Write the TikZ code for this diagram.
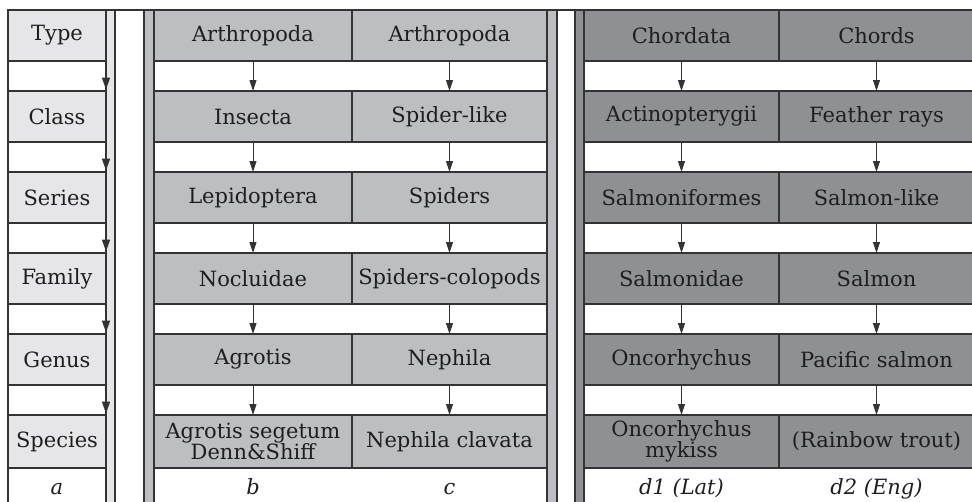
\documentclass[tikz,border=0pt]{standalone}
\usepackage{fontspec}
\setmainfont{DejaVu Serif}
\usetikzlibrary{arrows.meta}
\definecolor{ga}{HTML}{E6E6E8}
\definecolor{gb}{HTML}{BDBEC2}
\definecolor{gd}{HTML}{8F9094}
\definecolor{ln}{HTML}{333333}
\definecolor{tx}{HTML}{1E1E1E}
\tikzset{
  cell/.style={draw=ln, line width=1.2pt, rectangle, inner sep=0pt, outer sep=0pt,
    anchor=north west, minimum height=51pt, text=tx, align=center,
    font=\fontsize{21}{19}\selectfont},
  cola/.style={cell, fill=ga, minimum width=98pt},
  colb/.style={cell, fill=gb, minimum width=198pt},
  colc/.style={cell, fill=gb, minimum width=195pt},
  cold/.style={cell, fill=gd, minimum width=195pt},
  lab/.style={anchor=base, text=tx, font=\fontsize{21}{24}\selectfont\itshape},
  arr/.style={draw=ln, line width=1pt, -{Triangle[length=11pt,width=7pt]}},
  larr/.style={draw=ln, line width=1.6pt, -{Triangle[length=12pt,width=8pt]}},
  rule/.style={draw=ln, line width=1.2pt},
  thick rule/.style={draw=ln, line width=1.8pt},
}
\begin{document}
\begin{tikzpicture}[x=1pt,y=-1pt]
\useasboundingbox (0,0) rectangle (972,501);
% strips
\fill[ga] (106,10) rectangle (115,510);
\fill[gb] (144,10) rectangle (154,510);
\fill[gb] (547,10) rectangle (557,510);
\fill[gd] (575,10) rectangle (584,510);
% column a
\node[cola] (a1) at (8,10)  {Type};
\node[cola] (a2) at (8,91)  {Class};
\node[cola] (a3) at (8,172) {Series};
\node[cola] (a4) at (8,253) {Family};
\node[cola] (a5) at (8,334) {Genus};
\node[cola, minimum height=53pt] (a6) at (8,415) {Species};
% column b
\node[colb] (b1) at (154,10)  {Arthropoda};
\node[colb] (b2) at (154,91)  {Insecta};
\node[colb] (b3) at (154,172) {Lepidoptera};
\node[colb] (b4) at (154,253) {Nocluidae};
\node[colb] (b5) at (154,334) {Agrotis};
\node[colb, minimum height=53pt] (b6) at (154,415) {Agrotis segetum\\Denn\&Shiff};
% column c
\node[colc] (c1) at (352,10)  {Arthropoda};
\node[colc] (c2) at (352,91)  {Spider-like};
\node[colc] (c3) at (352,172) {Spiders};
\node[colc] (c4) at (352,253) {Spiders-colopods};
\node[colc] (c5) at (352,334) {Nephila};
\node[colc, minimum height=53pt] (c6) at (352,415) {Nephila clavata};
% column d1
\node[cold] (d1) at (584,10)  {Chordata};
\node[cold] (d2) at (584,91)  {Actinopterygii};
\node[cold] (d3) at (584,172) {Salmoniformes};
\node[cold] (d4) at (584,253) {Salmonidae};
\node[cold] (d5) at (584,334) {Oncorhychus};
\node[cold, minimum height=53pt] (d6) at (584,415) {Oncorhychus\\mykiss};
% column d2
\node[cold] (e1) at (779,10)  {Chords};
\node[cold] (e2) at (779,91)  {Feather rays};
\node[cold] (e3) at (779,172) {Salmon-like};
\node[cold] (e4) at (779,253) {Salmon};
\node[cold] (e5) at (779,334) {Pacific salmon};
\node[cold, minimum height=53pt] (e6) at (779,415) {(Rainbow trout)};
% frame lines
\draw[rule] (8,10) -- (972,10);
\draw[rule] (8,10) -- (8,510);
\draw[thick rule] (106,10) -- (106,510);
\draw[rule] (115,10) -- (115,510);
\draw[rule] (144,10) -- (144,510);
\draw[rule] (154,10) -- (154,510);
\draw[rule] (547,10) -- (547,510);
\draw[rule] (557,10) -- (557,510);
\draw[rule] (575,10) -- (575,510);
\draw[rule] (584,10) -- (584,510);
% arrows
\foreach \c in {b,c,d,e}{
  \foreach \r [count=\s from 2] in {1,...,5}{
    \draw[arr] (\c\r.south) -- (\c\s.north);
  }
}
\foreach \r [count=\s from 2] in {1,...,5}{
  \draw[larr, shorten >=1.5pt] (a\r.south east) -- (a\s.north east);
}
% labels
\node[lab] (la) at (57,494) {a};
\node[lab] (lb) at (253,494) {b};
\node[lab] (lc) at (449.5,494) {c};
\node[lab] (ld1) at (681.5,494) {d1 (Lat)};
\node[lab] (ld2) at (876.5,494) {d2 (Eng)};
\end{tikzpicture}
\end{document}
